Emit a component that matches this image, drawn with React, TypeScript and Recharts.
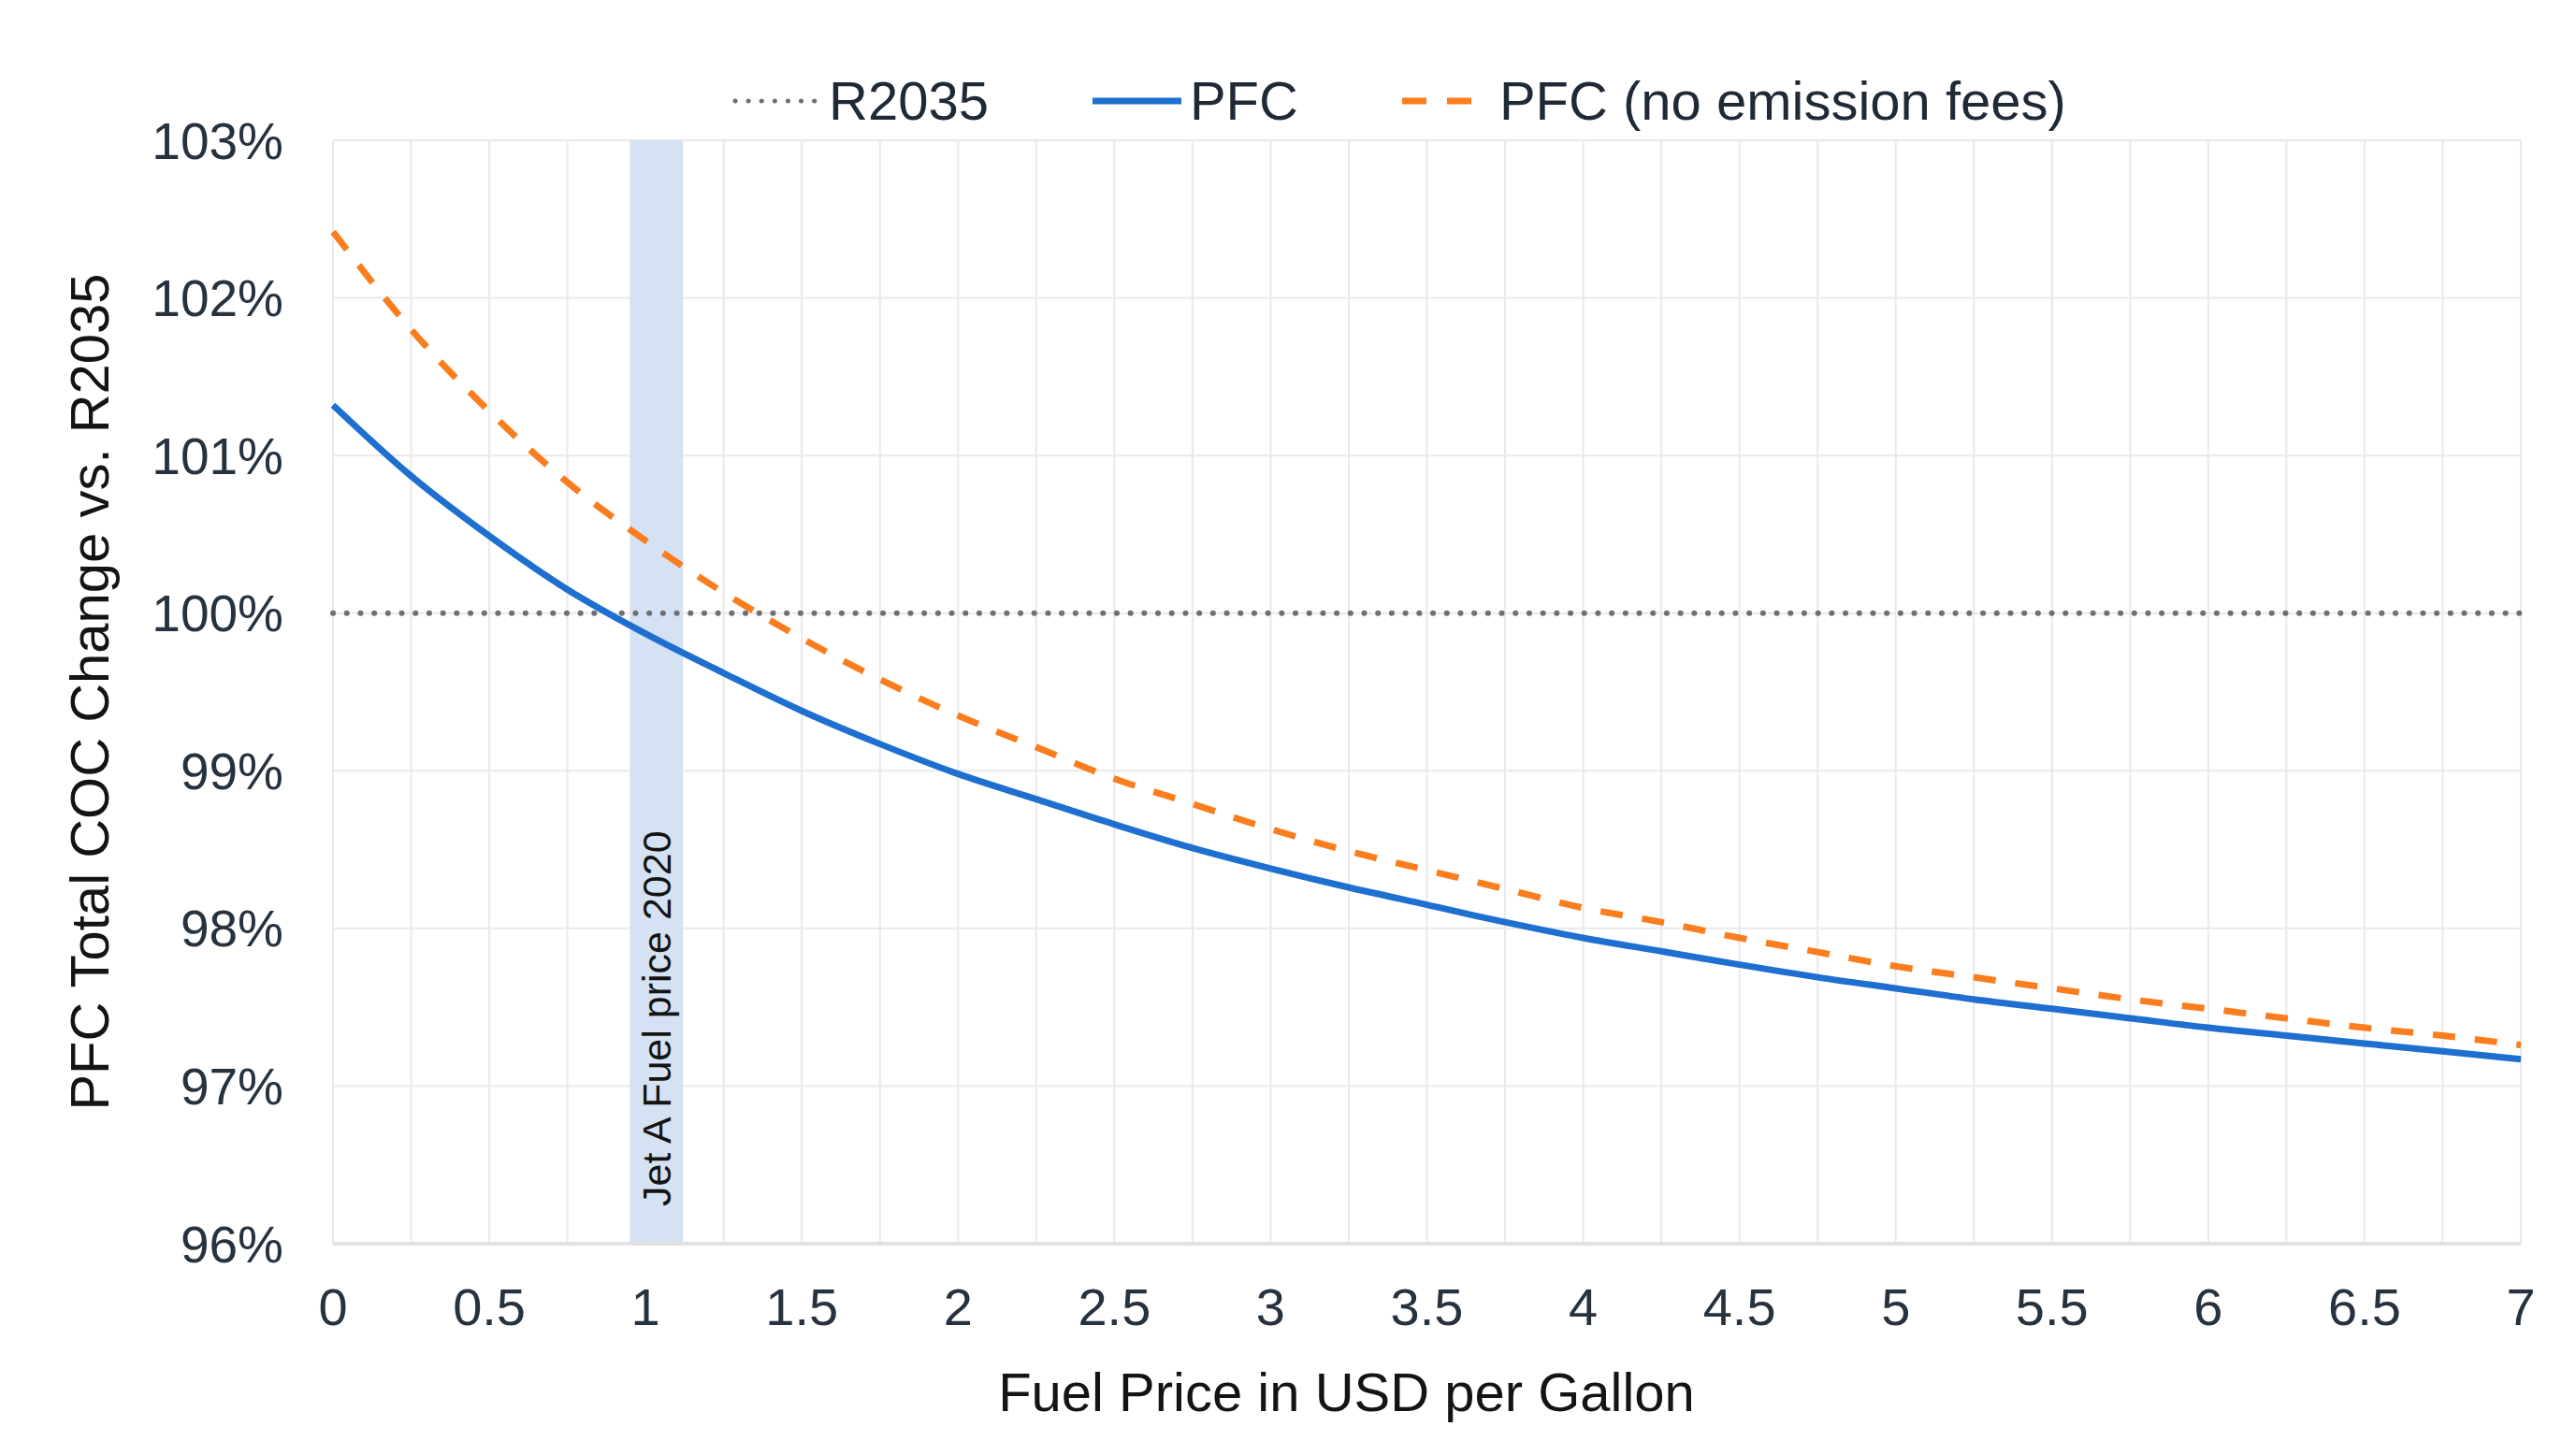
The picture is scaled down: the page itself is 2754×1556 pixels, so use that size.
import {
  CartesianGrid,
  Legend,
  Line,
  LineChart,
  ReferenceArea,
  XAxis,
  YAxis,
} from "recharts";

// fuel price in USD per gallon, sampled every quarter dollar
const fuelPrice = [
  0, 0.25, 0.5, 0.75, 1, 1.25, 1.5, 1.75, 2, 2.25, 2.5, 2.75, 3, 3.25, 3.5,
  3.75, 4, 4.25, 4.5, 4.75, 5, 5.25, 5.5, 5.75, 6, 6.25, 6.5, 6.75, 7,
];

// total COC relative to R2035, in percent
const pfc = [
  101.32, 100.87, 100.49, 100.15, 99.87, 99.62, 99.38, 99.17, 98.98, 98.82,
  98.66, 98.51, 98.38, 98.26, 98.15, 98.04, 97.94, 97.855, 97.77, 97.69, 97.62,
  97.55, 97.49, 97.43, 97.37, 97.32, 97.27, 97.22, 97.17,
];

const pfcNoFees = [
  102.42, 101.8, 101.28, 100.83, 100.46, 100.13, 99.84, 99.58, 99.35, 99.15,
  98.95, 98.79, 98.63, 98.49, 98.37, 98.25, 98.13, 98.04, 97.94, 97.85, 97.76,
  97.69, 97.62, 97.55, 97.49, 97.43, 97.37, 97.32, 97.26,
];

const r2035 = [
  100, 100, 100, 100, 100, 100, 100, 100, 100, 100, 100, 100, 100, 100, 100,
  100, 100, 100, 100, 100, 100, 100, 100, 100, 100, 100, 100, 100, 100,
];

const xTicks = [
  0, 0.25, 0.5, 0.75, 1, 1.25, 1.5, 1.75, 2, 2.25, 2.5, 2.75, 3, 3.25, 3.5,
  3.75, 4, 4.25, 4.5, 4.75, 5, 5.25, 5.5, 5.75, 6, 6.25, 6.5, 6.75, 7,
];
const yTicks = [96, 97, 98, 99, 100, 101, 102, 103];

// Jet A fuel price band (2020)
const jetABand = [0.95, 1.12];

const FONT = '"Liberation Sans", Arial, sans-serif';
const TICK_COLOR = "#27323f";
const TITLE_COLOR = "#141414";

const series = [
  { key: "r2035", name: "R2035", color: "#707070", width: 6, dash: "0.1 14.6", legendDash: "0.1 14", cap: "round" as const },
  { key: "pfc", name: "PFC", color: "#1f6fd0", width: 7, dash: undefined, legendDash: undefined, cap: "butt" as const },
  { key: "pfcNoFees", name: "PFC (no emission fees)", color: "#fb7d1e", width: 7, dash: "24 21", legendDash: "26 22", cap: "butt" as const },
];

const chartData = fuelPrice.map((price, i) => ({
  price,
  r2035: r2035[i],
  pfc: pfc[i],
  pfcNoFees: pfcNoFees[i],
}));

function LegendContent() {
  return (
    <div style={{ display: "flex", alignItems: "center", fontFamily: FONT }}>
      {series.map((s, i) => (
        <div
          key={s.key}
          style={{ display: "flex", alignItems: "center", marginLeft: i === 0 ? 0 : 111 }}
        >
          <svg width={95} height={20} style={{ display: "block" }}>
            <line
              x1={s.cap === "round" ? 4 : 0}
              y1={10}
              x2={95}
              y2={10}
              stroke={s.color}
              strokeWidth={s.key === "r2035" ? 5 : s.width}
              strokeDasharray={s.legendDash}
              strokeLinecap={s.cap}
            />
          </svg>
          <span
            style={{
              marginLeft: 9,
              fontSize: 58,
              lineHeight: "66px",
              color: "#1f2a36",
              whiteSpace: "nowrap",
            }}
          >
            {s.name}
          </span>
        </div>
      ))}
    </div>
  );
}

export default function App() {
  return (
    <div
      style={{
        position: "absolute",
        left: 0,
        top: 0,
        width: 2754,
        height: 1556,
        background: "#ffffff",
      }}
    >
      <LineChart
        width={2754}
        height={1556}
        data={chartData}
        margin={{ top: 150, right: 59, bottom: 46, left: 56 }}
      >
        <CartesianGrid stroke="#e9e9e9" strokeWidth={2} />
        <ReferenceArea
          x1={jetABand[0]}
          x2={jetABand[1]}
          fill="#d5e2f4"
          fillOpacity={1}
          stroke="none"
          label={{
            content: (props: any) => {
              const vb = props.viewBox || {};
              const cx = vb.x + vb.width / 2;
              const by = vb.y + vb.height - 40;
              return (
                <text
                  x={cx}
                  y={by}
                  transform={`rotate(-90, ${cx}, ${by})`}
                  textAnchor="start"
                  dominantBaseline="central"
                  fontFamily={FONT}
                  fontSize={43}
                  fill={TITLE_COLOR}
                >
                  Jet A Fuel price 2020
                </text>
              );
            },
          }}
        />
        <XAxis
          dataKey="price"
          type="number"
          domain={[0, 7]}
          ticks={xTicks}
          interval={0}
          height={180}
          tickLine={false}
          tickSize={0}
          tickMargin={47}
          axisLine={{ stroke: "#e2e2e2", strokeWidth: 4 }}
          tick={{ fontSize: 56, fill: TICK_COLOR, fontFamily: FONT }}
          tickFormatter={(v: number) => ((v * 2) % 1 === 0 ? String(v) : "")}
          label={{
            content: (props: any) => {
              const vb = props.viewBox || {};
              return (
                <text
                  x={vb.x + vb.width / 2 - 86}
                  y={vb.y + 158}
                  textAnchor="middle"
                  dominantBaseline="central"
                  fontFamily={FONT}
                  fontSize={58}
                  fill={TITLE_COLOR}
                >
                  Fuel Price in USD per Gallon
                </text>
              );
            },
          }}
        />
        <YAxis
          type="number"
          domain={[96, 103]}
          ticks={yTicks}
          interval={0}
          width={300}
          axisLine={false}
          tickLine={false}
          tickSize={0}
          tickMargin={53}
          tick={{ fontSize: 55, fill: TICK_COLOR, fontFamily: FONT }}
          tickFormatter={(v: number) => `${v}%`}
          label={{
            content: (props: any) => {
              const vb = props.viewBox || {};
              const cx = vb.x + 39;
              const cy = vb.y + vb.height / 2;
              return (
                <text
                  x={cx}
                  y={cy}
                  transform={`rotate(-90, ${cx}, ${cy})`}
                  textAnchor="middle"
                  dominantBaseline="central"
                  fontFamily={FONT}
                  fontSize={58}
                  fill={TITLE_COLOR}
                >
                  PFC Total COC Change vs. R2035
                </text>
              );
            },
          }}
        />
        <Legend
          layout="horizontal"
          align="center"
          verticalAlign="middle"
          content={() => <LegendContent />}
          wrapperStyle={{ top: 75, left: 782, width: 1700 }}
        />
        {series.map((s) => (
          <Line
            key={s.key}
            type="monotone"
            dataKey={s.key}
            name={s.name}
            stroke={s.color}
            strokeWidth={s.width}
            strokeDasharray={s.dash}
            strokeLinecap={s.cap}
            dot={false}
            activeDot={false}
            isAnimationActive={false}
          />
        ))}
      </LineChart>
    </div>
  );
}
